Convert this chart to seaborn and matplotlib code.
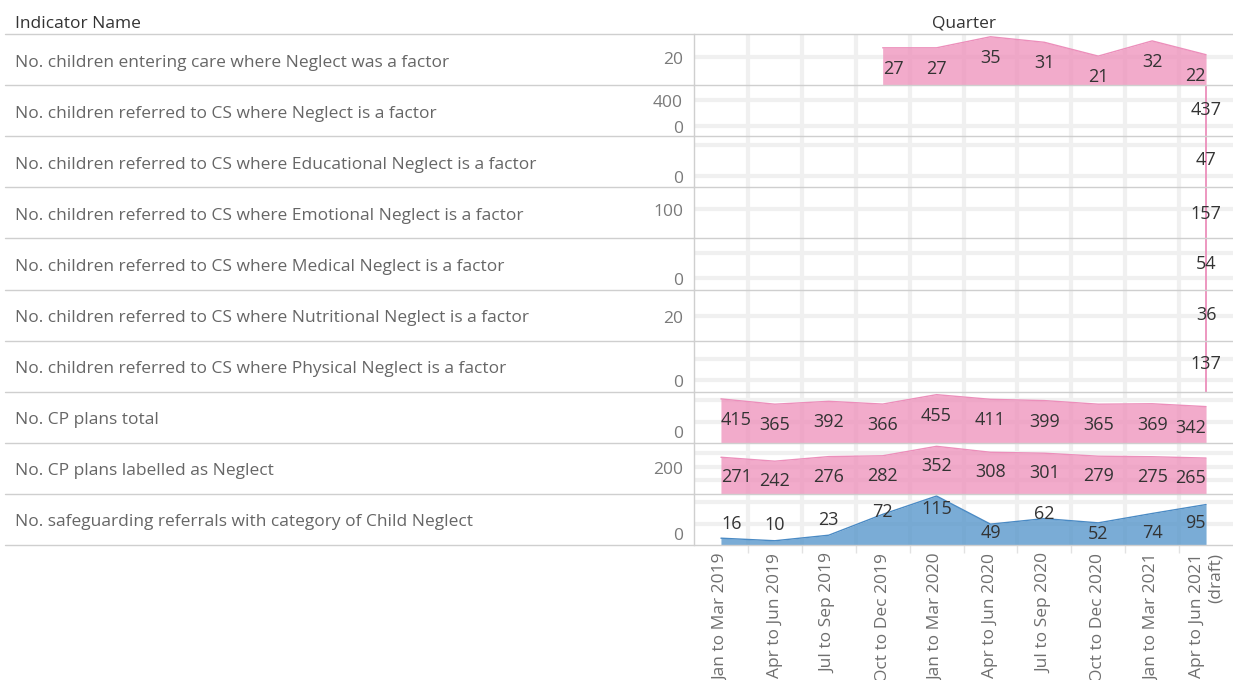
import numpy as np
import matplotlib.pyplot as plt
from matplotlib.lines import Line2D
import seaborn as sns

sns.set_theme(style="white")
plt.rcParams['font.family'] = ['Open Sans', 'DejaVu Sans']

nan = np.nan

quarters = ["Jan to Mar 2019", "Apr to Jun 2019", "Jul to Sep 2019", "Oct to Dec 2019",
            "Jan to Mar 2020", "Apr to Jun 2020", "Jul to Sep 2020", "Oct to Dec 2020",
            "Jan to Mar 2021", "Apr to Jun 2021\n(draft)"]

indicators = [
    "No. children entering care where Neglect was a factor",
    "No. children referred to CS where Neglect is a factor",
    "No. children referred to CS where Educational Neglect is a factor",
    "No. children referred to CS where Emotional Neglect is a factor",
    "No. children referred to CS where Medical Neglect is a factor",
    "No. children referred to CS where Nutritional Neglect is a factor",
    "No. children referred to CS where Physical Neglect is a factor",
    "No. CP plans total",
    "No. CP plans labelled as Neglect",
    "No. safeguarding referrals with category of Child Neglect",
]

entering_care = [nan, nan, nan, 27, 27, 35, 31, 21, 32, 22]
referred_neglect = [nan] * 9 + [437]
referred_educational = [nan] * 9 + [47]
referred_emotional = [nan] * 9 + [157]
referred_medical = [nan] * 9 + [54]
referred_nutritional = [nan] * 9 + [36]
referred_physical = [nan] * 9 + [137]
cp_plans_total = [415, 365, 392, 366, 455, 411, 399, 365, 369, 342]
cp_plans_neglect = [271, 242, 276, 282, 352, 308, 301, 279, 275, 265]
safeguarding_referrals = [16, 10, 23, 72, 115, 49, 62, 52, 74, 95]

series = [entering_care, referred_neglect, referred_educational, referred_emotional,
          referred_medical, referred_nutritional, referred_physical,
          cp_plans_total, cp_plans_neglect, safeguarding_referrals]

# per-row axis setup (Tableau gives each row its own scale)
row_ylims = [(0, 37), (-163, 622), (-19, 64), (-112, 252), (-23, 78), (-7, 50),
             (-58, 189), (0, 483), (0, 378), (0, 120)]
row_grid = [[20], [0, 400], [0, 50], [100], [0, 50], [20], [0, 100],
            [200, 400], [100, 200, 300], [50, 100]]
row_ticklabels = [[20], [0, 400], [0], [100], [0], [20], [0], [0], [200], [0]]

# label offsets in pixels (negative = below the point)
row_label_offset = [-21, -13, -13, -13, -13, -13, -13, -21, -20, None]
safeguarding_label_offsets = [14, 16, 15, 2, -13, -9, 5, -11, -20, -18]

pink_fill, pink_edge = "#ee8fba", "#ec8fbb"
blue_fill, blue_edge = "#4e91c9", "#4a8ac4"
row_colours = [(pink_fill, pink_edge)] * 9 + [(blue_fill, blue_edge)]

W, H = 1233, 680
fig, axes = plt.subplots(len(indicators), 1, figsize=(W / 100, H / 100), dpi=100, sharex=True)
fig.subplots_adjust(left=694 / W, right=1.0, top=1 - 34 / H, bottom=1 - 545 / H, hspace=0)

xs = np.arange(len(quarters))
grid_col = "#f0f0f0"
border_col = "#cfcfcf"
txt_shift = 3 / H  # Tableau text sits a touch lower than matplotlib's centring

for r, ax in enumerate(axes):
    vals = np.array(series[r], dtype=float)
    fill_c, edge_c = row_colours[r]
    ax.set_xlim(-0.5, len(quarters) - 0.5)
    ax.set_ylim(*row_ylims[r])

    # grid
    ax.set_yticks(row_grid[r])
    ax.set_yticklabels([])
    ax.set_xticks(xs)
    ax.set_xticks(np.arange(0.5, len(quarters) - 1), minor=True)
    ax.grid(axis='y', which='major', color=grid_col, lw=3)
    ax.grid(axis='x', which='minor', color=grid_col, lw=3)
    ax.grid(axis='x', which='major', visible=False)
    ax.set_axisbelow(True)
    ax.tick_params(axis='y', length=4, color="#e2e2e2", width=1)
    ax.tick_params(axis='x', which='both', length=0, labelbottom=False)

    for s in ['top', 'right', 'bottom']:
        ax.spines[s].set_visible(False)
    ax.spines['left'].set_color(border_col)
    ax.spines['left'].set_linewidth(1)

    mask = ~np.isnan(vals)
    pts = xs[mask]
    if len(pts) > 1:
        ax.fill_between(pts, 0, vals[mask], color=fill_c, alpha=0.75, lw=0, zorder=2)
        sns.lineplot(x=pts, y=vals[mask], ax=ax, color=edge_c, lw=1, zorder=3)
    else:
        ax.axvline(pts[0], color=edge_c, lw=1.3, zorder=3)

    # value labels; the end labels are kept inside the area, as Tableau does
    for i in pts:
        off = row_label_offset[r] if row_label_offset[r] is not None else safeguarding_label_offsets[i]
        ha = 'center'
        if len(pts) > 1 and i == pts[0]:
            ha = 'left'
        elif len(pts) > 1 and i == pts[-1]:
            ha = 'right'
        ax.annotate(f"{vals[i]:g}", (i, vals[i]), xytext=(0, off), textcoords='offset pixels',
                    ha=ha, va='center', fontsize=13, color="#333333", zorder=5,
                    annotation_clip=False)

    # axis tick labels
    ylo = row_ylims[r][0]
    for v in row_ticklabels[r]:
        ax.annotate(f"{v}", (0, v), xycoords=ax.get_yaxis_transform(),
                    xytext=(-11, 1 if v == ylo else -3), textcoords='offset pixels',
                    ha='right', va='bottom' if v == ylo else 'center',
                    fontsize=12.5, color="#7a7a7a", annotation_clip=False)

    # indicator name on the left
    pos = ax.get_position()
    fig.text(15 / W, (pos.y0 + pos.y1) / 2 - txt_shift, indicators[r], ha='left', va='center',
             fontsize=12.5, color="#666666")
    fig.add_artist(Line2D([5 / W, 1], [pos.y1, pos.y1], transform=fig.transFigure,
                          color=border_col, lw=1))

bottom_ax = axes[-1]
fig.add_artist(Line2D([5 / W, 1], [bottom_ax.get_position().y0] * 2, transform=fig.transFigure,
                      color=border_col, lw=1))
bottom_ax.tick_params(axis='x', which='major', labelbottom=True, length=0, pad=6)
bottom_ax.tick_params(axis='x', which='minor', length=6, color="#e2e2e2", width=1, bottom=True)
bottom_ax.set_xticklabels(quarters, rotation=90, fontsize=12.5, color="#6f6f6f",
                          va='top', ha='center', multialignment='right')

fig.text(15 / W, 1 - 21 / H - txt_shift, "Indicator Name", ha='left', va='center',
         fontsize=12.5, color="#333333")
fig.text(964 / W, 1 - 21 / H - txt_shift, "Quarter", ha='center', va='center',
         fontsize=12.5, color="#333333")

plt.savefig("out.png", dpi=100)
plt.close()
